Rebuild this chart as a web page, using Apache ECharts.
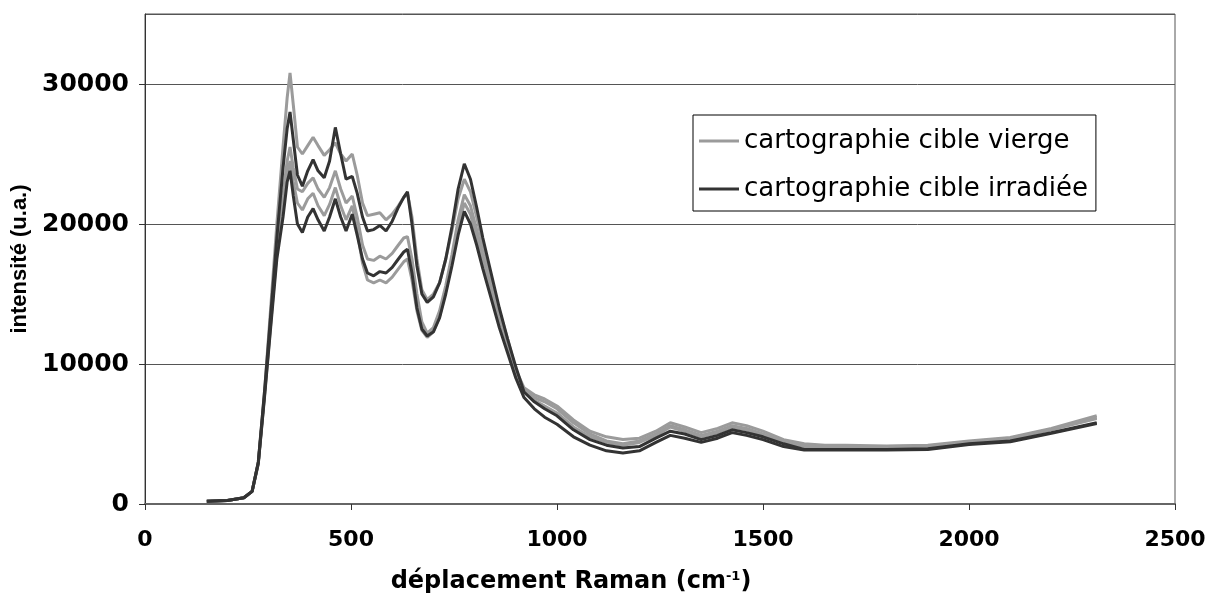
<!DOCTYPE html>
<html>
<head>
<meta charset="utf-8">
<script src="https://cdn.jsdelivr.net/npm/echarts@6/dist/echarts.min.js"></script>
<style>html,body{margin:0;padding:0;background:#fff}#c{width:1208px;height:596px}</style>
</head>
<body>
<div id="c"></div>
<script>
// Raman shift (cm-1)
var shift = [150,200,240,260,275,290,305,320,335,345,352,360,370,382,395,408,420,435,448,462,475,488,503,515,528,540,555,570,585,600,615,628,637,648,660,672,685,700,715,730,745,760,775,790,805,820,840,860,880,900,920,945,970,1000,1040,1080,1120,1160,1200,1240,1275,1310,1350,1390,1425,1460,1500,1550,1600,1650,1700,1800,1900,2000,2100,2200,2310];

// cartographie cible vierge (3 spectra)
var vierge1 = [200,250,450,900,3000,8000,14000,20000,25500,29000,30800,28500,25500,25000,25600,26200,25600,24900,25300,25800,25000,24500,25000,23500,21500,20600,20700,20800,20300,20700,21300,21900,22200,20500,17500,15300,14600,15000,15800,17500,19500,21800,23200,22300,20500,18500,16200,13800,11800,9600,8300,7800,7500,7000,6000,5200,4800,4600,4700,5200,5800,5500,5100,5400,5800,5600,5200,4600,4300,4200,4200,4150,4200,4500,4750,5400,6300];
var vierge2 = [200,250,450,900,2900,7800,13000,18500,22000,24500,25500,24000,22500,22300,22900,23300,22500,21900,22600,23800,22500,21500,22000,20500,18500,17500,17400,17700,17500,17900,18500,19000,19100,17500,15000,13000,12200,12600,13800,15600,17800,20300,22100,21300,19600,17800,15500,13200,11300,9400,8200,7600,7300,6800,5800,5000,4500,4300,4500,5000,5600,5300,4900,5200,5600,5400,5000,4500,4200,4100,4100,4100,4150,4450,4700,5350,6200];
var vierge3 = [200,250,450,900,2900,7700,12800,18000,21000,23500,24500,23000,21500,21000,21800,22200,21300,20600,21400,22600,21300,20300,21300,19500,17200,16000,15800,16000,15800,16200,16800,17300,17500,16000,13800,12400,11900,12300,13400,15200,17300,19700,21500,20700,19000,17300,15000,12900,11000,9200,8000,7400,7000,6500,5500,4800,4400,4200,4400,4900,5500,5200,4800,5100,5500,5300,4900,4400,4100,4050,4050,4050,4100,4400,4650,5300,6100];

// cartographie cible irradiée (2 spectra)
var irradiee1 = [200,250,450,900,3000,8000,13500,19000,24000,26800,28000,26000,23500,22700,23800,24600,23800,23300,24500,26900,25000,23200,23400,22200,20500,19500,19600,19900,19500,20200,21200,21900,22300,20000,17000,15000,14400,14800,15800,17500,19800,22500,24300,23200,21200,19000,16500,14000,11800,9800,8000,7300,6800,6300,5300,4600,4200,4000,4100,4700,5200,5000,4600,4900,5300,5100,4800,4300,3900,3900,3900,3900,3950,4300,4500,5100,5800];
var irradiee2 = [200,250,450,900,2900,7600,12600,17500,20500,23000,23800,22000,20000,19400,20500,21100,20300,19500,20500,21800,20500,19500,20700,19200,17500,16500,16300,16600,16500,16900,17500,18000,18200,16500,14000,12500,12000,12300,13300,15000,17000,19200,20900,20000,18500,16800,14700,12600,10800,9000,7600,6800,6200,5700,4800,4200,3800,3650,3800,4400,4900,4700,4400,4700,5100,4900,4600,4100,3850,3850,3850,3850,3900,4250,4450,5050,5750];

var xTicks = [0, 2500, 500];      // min, max, step
var yTicks = [0, 35000, 10000];   // min, max, step

var NAME_V = 'cartographie cible vierge';
var NAME_I = 'cartographie cible irradiée';
var GRAY = '#9b9b9b', DARK = '#333333';
var WIDE = 'DejaVu Sans, Verdana, sans-serif';
var ARIAL = 'Liberation Sans, Arial, sans-serif';

function pairs(ys){ return shift.map(function(x,i){ return [x, ys[i]]; }); }
function mk(name, ys, color){
  return { type:'line', name:name, data:pairs(ys), symbol:'none', smooth:false,
           lineStyle:{color:color, width:3}, itemStyle:{color:color}, animation:false };
}

var chart = echarts.init(document.getElementById('c'), null, {renderer:'canvas'});
chart.setOption({
  backgroundColor:'#ffffff',
  animation:false,
  textStyle:{fontFamily:ARIAL},
  grid:{left:145, right:33, top:14, bottom:92, show:true, borderColor:'#555', borderWidth:1,
        backgroundColor:'transparent', containLabel:false, outerBoundsMode:'none'},
  legend:{
    orient:'vertical', left:693, top:115,
    data:[NAME_V, NAME_I],
    icon:'rect', itemWidth:40, itemHeight:3, itemGap:22,
    padding:[13, 8, 9, 6],
    borderColor:'#000', borderWidth:1,
    textStyle:{fontSize:26, color:'#000', fontFamily:WIDE}
  },
  xAxis:{
    type:'value', min:xTicks[0], max:xTicks[1], interval:xTicks[2],
    name:'déplacement Raman (cm{sup|-1})', nameLocation:'middle', nameGap:66,
    nameTextStyle:{fontSize:24, fontWeight:'bold', color:'#000', fontFamily:WIDE, padding:[0,178,0,0],
      rich:{sup:{fontSize:13, fontWeight:'bold', fontFamily:WIDE, verticalAlign:'top', padding:[0,0,10,0]}}},
    axisLine:{lineStyle:{color:'#666', width:2}},
    axisTick:{show:true, length:6, lineStyle:{color:'#333'}},
    axisLabel:{fontSize:22, fontWeight:'bold', color:'#000', margin:25, fontFamily:WIDE,
      formatter:function(v){ return String(v); }},
    splitLine:{show:false}
  },
  yAxis:{
    type:'value', min:yTicks[0], max:yTicks[1], interval:yTicks[2],
    name:'intensité (u.a.)', nameLocation:'middle', nameGap:114, nameRotate:90,
    nameTextStyle:{fontSize:22, fontWeight:'bold', color:'#000', fontFamily:ARIAL},
    axisLine:{show:true, lineStyle:{color:'#333', width:1}},
    axisTick:{show:true, length:6, lineStyle:{color:'#333'}},
    axisLabel:{fontSize:25, fontWeight:'bold', color:'#000', margin:16, showMaxLabel:false, fontFamily:WIDE,
      formatter:function(v){ return v >= yTicks[1] ? '' : String(v); }},
    splitLine:{show:true, lineStyle:{color:'#555', width:1}}
  },
  series:[
    mk(NAME_V, vierge1, GRAY),
    mk(NAME_V, vierge2, GRAY),
    mk(NAME_V, vierge3, GRAY),
    mk(NAME_I, irradiee1, DARK),
    mk(NAME_I, irradiee2, DARK)
  ]
});
</script>
</body>
</html>
